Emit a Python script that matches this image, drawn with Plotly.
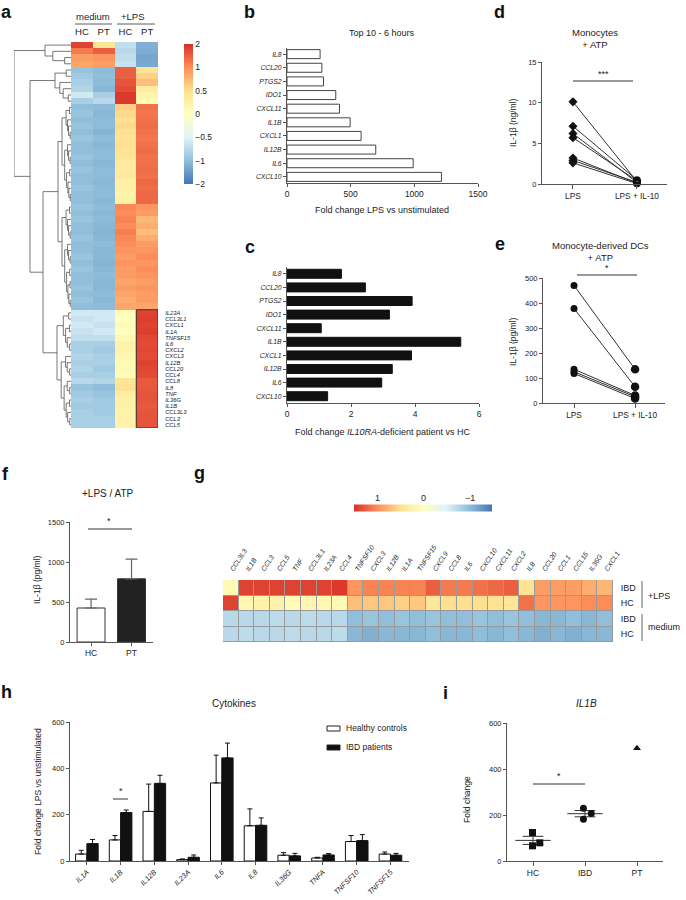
import numpy as np
import plotly.graph_objects as go

W, H = 686, 900
FONT = "Liberation Sans, Arial, sans-serif"
NARROW = "Liberation Sans Narrow, Liberation Sans, Arial, sans-serif"
INK = "#222222"
AXC = "#555555"

# ---------------- data ----------------
# panel a : row z-scores (top -> bottom), clusters A..E
a_col_labels = ["HC", "PT", "HC", "PT"]
a_medium_HC = [1.8, 1.2, 0.9, 0.85,
               -0.95, -0.9, -0.85, -0.8, -0.6, -0.85,
               -1.0, -0.95, -1.0, -0.95, -1.0, -0.95, -1.0, -1.0, -0.95, -1.0, -0.95, -1.0, -1.0, -0.95, -1.0, -1.0,
               -0.95, -1.0, -0.95, -1.0, -1.0, -0.95, -1.0, -1.0, -0.95, -1.0, -0.95, -1.0, -1.0, -0.95, -1.0, -0.95, -1.0,
               -0.6, -0.65, -0.6, -0.65, -0.7, -0.85, -0.85, -0.8, -0.85, -0.8, -0.85, -0.75, -0.95, -0.9, -0.85, -0.9, -0.85, -0.85, -0.85]
a_medium_PT = [0.4, 1.5, 0.95, 0.9,
               -1.05, -1.0, -1.05, -1.1, -0.85, -0.75,
               -1.05, -1.1, -1.05, -1.05, -1.15, -1.05, -1.1, -1.05, -1.05, -1.1, -1.05, -1.05, -1.1, -1.05, -1.05, -1.1,
               -1.05, -1.1, -1.05, -1.1, -1.15, -1.1, -1.05, -1.1, -1.1, -1.15, -1.1, -1.05, -1.1, -1.1, -1.05, -1.1, -1.05,
               -0.6, -0.6, -0.65, -0.6, -0.7, -0.85, -0.9, -0.85, -0.85, -0.9, -0.85, -0.8, -1.0, -0.95, -0.9, -0.9, -0.9, -0.85, -0.85]
a_lps_HC = [-0.7, -0.75, -0.7, -0.65,
            1.5, 1.5, 1.6, 1.7, 1.9, 1.9,
            0.6, 0.55, 0.5, 0.55, 0.5, 0.45, 0.5, 0.45, 0.4, 0.35, 0.3, 0.35, 0.25, 0.25, 0.2, 0.25,
            1.05, 1.0, 1.1, 1.0, 1.15, 1.05, 1.0, 0.95, 0.9, 0.95, 0.9, 0.9, 0.85, 0.9, 0.85, 0.8, 0.85,
            0.05, 0.0, 0.05, 0.0, 0.1, 0.2, 0.2, 0.15, 0.1, 0.1, 0.05, 0.4, 0.45, 0.3, 0.25, 0.25, 0.2, 0.2, 0.2]
a_lps_PT = [-1.2, -1.25, -1.35, -1.3,
            0.45, 0.6, 0.7, 0.3, 0.2, 0.1,
            1.3, 1.25, 1.3, 1.35, 1.3, 1.25, 1.3, 1.35, 1.3, 1.3, 1.35, 1.3, 1.4, 1.35, 1.4, 1.4,
            0.95, 0.9, 0.75, 0.8, 0.7, 0.8, 0.9, 0.95, 1.0, 0.95, 1.0, 0.95, 0.9, 0.95, 0.9, 0.9, 0.85,
            1.8, 1.85, 1.8, 1.85, 1.75, 1.7, 1.75, 1.7, 1.8, 1.75, 1.7, 1.55, 1.55, 1.6, 1.6, 1.55, 1.6, 1.6, 1.6]
a_box_genes = ["IL23A", "CCL3L1", "CXCL1", "IL1A", "TNFSF15", "IL6", "CXCL2", "CXCL3", "IL12B",
               "CCL20", "CCL4", "CCL8", "IL8", "TNF", "IL36G", "IL1B", "CCL3L3", "CCL3", "CCL5"]
a_cbar_values = [-2, -1, -0.5, 0, 0.5, 1, 2]
a_cbar_labels = ["\u22122", "\u22121", "\u22120.5", "0", "0.5", "1", "2"]
# dendrogram structure (cluster sizes, internal heights, merge heights)
a_cluster_sizes = [4, 6, 16, 17, 19]
a_cluster_heights = [26, 16, 9, 9, 14]
a_merge_heights = [13, 28, 41, 57]

# panels b, c
bc_genes = ["IL8", "CCL20", "PTGS2", "IDO1", "CXCL11", "IL1B", "CXCL1", "IL12B", "IL6", "CXCL10"]
b_values = [260, 274, 287, 383, 412, 496, 582, 697, 991, 1213]
c_values = [1.70, 2.45, 3.91, 3.20, 1.07, 5.43, 3.89, 3.29, 2.96, 1.27]

# panel d, e
de_groups = ["LPS", "LPS + IL-10"]
d_lps = [10.1, 7.1, 6.2, 5.7, 3.2, 2.9, 2.6]
d_lps_il10 = [0.3, 0.5, 0.2, 0.4, 0.1, 0.2, 0.05]
e_lps = [470, 378, 135, 125, 118]
e_lps_il10 = [135, 65, 30, 25, 18]

# panel f
f_groups = ["HC", "PT"]
f_means = [425, 790]
f_err = [112, 247]

# panel g
g_genes = ["CCL3L3", "IL1B", "CCL3", "CCL5", "TNF", "CCL3L1", "IL23A", "CCL4", "TNFSF10", "CXCL3",
           "IL12B", "IL1A", "TNFSF15", "CXCL9", "CCL8", "IL6", "CXCL10", "CXCL11", "CXCL2", "IL8",
           "CCL20", "CCL1", "CCL15", "IL36G", "CXCL1"]
g_rows = ["IBD", "HC", "IBD", "HC"]
g_IBD_LPS = [0.1, 1.4, 1.4, 1.4, 1.4, 1.4, 1.4, 1.45, 0.95, 1.05, 1.05, 1.05, 1.05, 1.25, 1.1, 1.1,
             1.15, 1.2, 1.25, 0.45, 0.9, 0.9, 0.9, 0.8, 0.75]
g_HC_LPS = [1.4, 0.15, 0.2, 0.2, 0.05, 0.15, 0.12, 0.1, 0.7, 0.65, 0.65, 0.6, 0.65, 0.4, 0.5, 0.5,
            0.5, 0.45, 0.4, 1.15, 0.95, 0.95, 0.95, 1.0, 1.0]
g_IBD_med = [-0.75, -0.75, -0.75, -0.72, -0.75, -0.72, -0.75, -0.75, -1.0, -0.95, -1.0, -0.95, -1.0, -0.95,
             -1.0, -1.0, -0.95, -1.0, -0.95, -1.0, -1.05, -1.05, -1.0, -1.05, -1.0]
g_HC_med = [-0.75, -0.72, -0.75, -0.75, -0.72, -0.75, -0.75, -0.72, -1.05, -1.1, -1.05, -1.05, -1.05, -1.0,
            -1.05, -1.05, -1.0, -1.05, -1.0, -1.05, -1.1, -1.05, -1.1, -1.05, -1.05]

# panel h
h_genes = ["IL1A", "IL1B", "IL12B", "IL23A", "IL6", "IL8", "IL36G", "TNFA", "TNFSF10", "TNFSF15"]
h_series = ["Healthy controls", "IBD patients"]
h_hc = [30, 91, 214, 6, 337, 152, 25, 13, 84, 30]
h_hc_err = [16, 19, 118, 3, 120, 73, 11, 3, 26, 9]
h_ibd = [75, 209, 335, 16, 445, 154, 22, 26, 88, 25]
h_ibd_err = [18, 11, 35, 10, 64, 32, 11, 6, 26, 8]

# panel i
i_groups = ["HC", "IBD", "PT"]
i_hc = [124, 79, 66]
i_ibd = [229, 206, 182]
i_pt = [490]
i_hc_jitter = [-0.01, 0.13, -0.01]
i_ibd_jitter = [-0.03, 0.12, -0.03]

# ---------------- helpers ----------------
def DX(a, b):
    return [a / W, b / W]

def DY(top, bottom):
    return [1 - bottom / H, 1 - top / H]

def PX(x):
    return x / W

def PY(y):
    return 1 - y / H

RDYLBU = ["#4575B4", "#91BFDB", "#E0F3F8", "#FFFFBF", "#FEE090", "#FC8D59", "#D73027"]
cs = [[i / 6, c] for i, c in enumerate(RDYLBU)]
cs_rev = [[i / 6, c] for i, c in enumerate(RDYLBU[::-1])]

def tf(size, family=FONT):
    return dict(size=size, family=family, color=INK)

def ax(**kw):
    base = dict(showline=True, linecolor=AXC, linewidth=1, ticks="outside", ticklen=3, tickwidth=1,
                tickcolor=AXC, showgrid=False, zeroline=False, fixedrange=True, tickfont=tf(7.5, NARROW))
    base.update(kw)
    return base

fig = go.Figure()

# ---------------- panel a: dendrogram ----------------
dend_x, dend_y = [], []

def link(l, r, h):
    (yl, hl), (yr, hr) = l, r
    dend_x.extend([hl, h, h, hr, None])
    dend_y.extend([yl, yl, yr, yr, None])
    return ((yl + yr) / 2, h)

def subtree(lo, hi, h):
    n = hi - lo
    if n == 1:
        return (lo, 0.0)
    cut = lo + max(1, (2 * n) // 5)
    left = subtree(lo, cut, h * (0.55 if cut - lo > 2 else 0.3))
    right = subtree(cut, hi, h * (0.7 if hi - cut > 2 else 0.35))
    return link(left, right, h)

starts = [int(s) for s in np.cumsum([0] + a_cluster_sizes[:-1])]
nA, nB, nC, nD, nE = [subtree(s, s + n, hh) for s, n, hh in zip(starts, a_cluster_sizes, a_cluster_heights)]
nCD = link(nC, nD, a_merge_heights[0])
nCDE = link(nCD, nE, a_merge_heights[1])
nBCDE = link(nB, nCDE, a_merge_heights[2])
link(nA, nBCDE, a_merge_heights[3])

fig.add_trace(go.Scatter(x=dend_x, y=dend_y, mode="lines", line=dict(color="#555", width=0.8),
                         xaxis="x", yaxis="y", showlegend=False, hoverinfo="skip", cliponaxis=False))

# ---------------- panel a: heatmap ----------------
n_rows = len(a_medium_HC)
a_z = np.column_stack([a_medium_HC, a_medium_PT, a_lps_HC, a_lps_PT])
a_t = np.interp(a_z, a_cbar_values, np.arange(-3, 4))
fig.add_trace(go.Heatmap(
    z=a_t, x=list(range(4)), y=list(range(n_rows)), colorscale=cs, zmin=-3, zmax=3,
    xaxis="x2", yaxis="y2", hoverinfo="skip",
    colorbar=dict(x=PX(184), xanchor="left", y=PY(114), yanchor="middle", len=140, lenmode="pixels",
                  thickness=9, thicknessmode="pixels", outlinewidth=0, xpad=0, ypad=0,
                  tickvals=list(range(-3, 4)), ticktext=a_cbar_labels, ticks="",
                  tickfont=tf(8.5))))

# ---------------- panel b ----------------
fig.add_trace(go.Bar(x=b_values, y=bc_genes, orientation="h", width=0.66,
                     marker=dict(color="white", line=dict(color="#444", width=1)),
                     xaxis="x3", yaxis="y3", showlegend=False, hoverinfo="skip"))
# ---------------- panel c ----------------
fig.add_trace(go.Bar(x=c_values, y=bc_genes, orientation="h", width=0.66,
                     marker=dict(color="#111", line=dict(color="#111", width=1)),
                     xaxis="x4", yaxis="y4", showlegend=False, hoverinfo="skip"))

# ---------------- panel d / e ----------------
def paired(v0s, v1s):
    xs, ys = [], []
    for v0, v1 in zip(v0s, v1s):
        xs += [de_groups[0], de_groups[1], None]
        ys += [v0, v1, None]
    return xs, ys

for (v0s, v1s, xa, ya, sym0, sym1) in [(d_lps, d_lps_il10, "x5", "y5", "diamond", "circle-open"),
                                       (e_lps, e_lps_il10, "x6", "y6", "circle", "circle")]:
    xs, ys = paired(v0s, v1s)
    fig.add_trace(go.Scatter(x=xs, y=ys, mode="lines", line=dict(color="#333", width=1),
                             xaxis=xa, yaxis=ya, showlegend=False, hoverinfo="skip"))
    fig.add_trace(go.Scatter(x=[de_groups[0]] * len(v0s), y=v0s, mode="markers",
                             marker=dict(symbol=sym0, size=7, color="#111"),
                             xaxis=xa, yaxis=ya, showlegend=False, hoverinfo="skip", cliponaxis=False))
    fig.add_trace(go.Scatter(x=[de_groups[1]] * len(v1s), y=v1s, mode="markers",
                             marker=dict(symbol=sym1, size=6 if sym1 == "circle-open" else 7, color="#111",
                                         line=dict(width=1.5, color="#111")),
                             xaxis=xa, yaxis=ya, showlegend=False, hoverinfo="skip", cliponaxis=False))

# ---------------- panel f ----------------
fig.add_trace(go.Bar(x=f_groups, y=f_means, width=0.69,
                     marker=dict(color=["white", "#222"], line=dict(color="#333", width=1)),
                     error_y=dict(type="data", array=f_err, arrayminus=[0] * len(f_err), symmetric=False,
                                  color="#666", thickness=1.2, width=6),
                     xaxis="x7", yaxis="y7", showlegend=False, hoverinfo="skip"))

# ---------------- panel g ----------------
g_z = -np.array([g_IBD_LPS, g_HC_LPS, g_IBD_med, g_HC_med])
fig.add_trace(go.Heatmap(
    z=g_z, x=list(range(len(g_genes))), y=list(range(4)), colorscale=cs_rev, zmin=-1.5, zmax=1.5,
    xgap=1, ygap=1, xaxis="x8", yaxis="y8", hoverinfo="skip",
    colorbar=dict(orientation="h", x=PX(423), xanchor="center", y=PY(508.5), yanchor="middle",
                  len=138, lenmode="pixels", thickness=7, thicknessmode="pixels", outlinewidth=0,
                  showticklabels=False, ticks="", xpad=0, ypad=0)))

# ---------------- panel h ----------------
h_fill = ["white", "#111"]
for k, (vals, errs, off) in enumerate([(h_hc, h_hc_err, -0.335), (h_ibd, h_ibd_err, 0.0)]):
    fig.add_trace(go.Bar(x=h_genes, y=vals, width=0.335, offset=off, name=h_series[k],
                         marker=dict(color=h_fill[k], line=dict(color="#111", width=1)),
                         error_y=dict(type="data", array=errs, arrayminus=[0] * len(errs),
                                      symmetric=False, color="#111", thickness=1, width=2.5),
                         xaxis="x9", yaxis="y9", hoverinfo="skip", showlegend=False))

# ---------------- panel i ----------------
for gi, (vals, jit, sym) in enumerate([(i_hc, i_hc_jitter, "square"), (i_ibd, i_ibd_jitter, "circle")]):
    m = float(np.mean(vals))
    s = float(np.std(vals, ddof=1) / np.sqrt(len(vals)))
    lx = [gi - 0.34, gi + 0.34, None, gi - 0.2, gi + 0.2, None, gi - 0.2, gi + 0.2, None, gi, gi]
    ly = [m, m, None, m + s, m + s, None, m - s, m - s, None, m - s, m + s]
    fig.add_trace(go.Scatter(x=lx, y=ly, mode="lines", line=dict(color="#333", width=1),
                             xaxis="x10", yaxis="y10", showlegend=False, hoverinfo="skip"))
    fig.add_trace(go.Scatter(x=[gi + j for j in jit], y=vals, mode="markers",
                             marker=dict(symbol=sym, size=7, color="#111"),
                             xaxis="x10", yaxis="y10", showlegend=False, hoverinfo="skip"))
fig.add_trace(go.Scatter(x=[2] * len(i_pt), y=i_pt, mode="markers",
                         marker=dict(symbol="triangle-up", size=7, color="#111"),
                         xaxis="x10", yaxis="y10", showlegend=False, hoverinfo="skip"))

# ---------------- layout axes ----------------
italic = lambda lst: ["<i>%s</i>" % s for s in lst]
layout = dict(
    template="none",
    width=W, height=H, margin=dict(l=0, r=0, t=0, b=0),
    paper_bgcolor="white", plot_bgcolor="white",
    font=dict(family=FONT, size=8, color=INK),
    barmode="overlay", showlegend=False,
    # a dendrogram
    xaxis=dict(domain=DX(14, 71), range=[a_merge_heights[-1], 0], visible=False, anchor="y", fixedrange=True),
    yaxis=dict(domain=DY(42, 428), range=[n_rows - 0.5, -0.5], visible=False, anchor="x", fixedrange=True),
    # a heatmap
    xaxis2=dict(domain=DX(71, 158), range=[-0.5, 3.5], side="top", anchor="y2", tickvals=list(range(4)),
                ticktext=a_col_labels, ticks="outside", ticklen=2, tickcolor="rgba(0,0,0,0)",
                showline=False, showgrid=False, zeroline=False, tickfont=tf(9.5), fixedrange=True),
    yaxis2=dict(domain=DY(42, 428), range=[n_rows - 0.5, -0.5], side="right", anchor="x2",
                tickvals=list(range(n_rows - len(a_box_genes), n_rows)), ticktext=italic(a_box_genes),
                ticks="outside", ticklen=5, tickcolor="rgba(0,0,0,0)", showline=False, showgrid=False,
                zeroline=False, tickfont=tf(5.8), fixedrange=True),
    # b
    xaxis3=ax(domain=DX(287, 478), range=[0, 1500], tickvals=[0, 500, 1000, 1500], anchor="y3",
              tickfont=tf(8.5)),
    yaxis3=ax(domain=DY(48, 183), type="category", categoryorder="array", categoryarray=bc_genes,
              range=[9.45, -0.45], tickvals=bc_genes, ticktext=italic(bc_genes), anchor="x3",
              tickfont=tf(6.8)),
    # c
    xaxis4=ax(domain=DX(287, 479), range=[0, 6], tickvals=[0, 2, 4, 6], anchor="y4", tickfont=tf(8.5)),
    yaxis4=ax(domain=DY(267, 403), type="category", categoryorder="array", categoryarray=bc_genes,
              range=[9.5, -0.5], tickvals=bc_genes, ticktext=italic(bc_genes), anchor="x4",
              tickfont=tf(6.8)),
    # d
    xaxis5=ax(domain=DX(542, 667), type="category", categoryorder="array", categoryarray=de_groups,
              range=[-0.484, 1.47], anchor="y5", tickfont=tf(8.3), ticklen=4),
    yaxis5=ax(domain=DY(62, 184), range=[0, 15], tickvals=[0, 5, 10, 15], anchor="x5"),
    # e
    xaxis6=ax(domain=DX(543, 665), type="category", categoryorder="array", categoryarray=de_groups,
              range=[-0.508, 1.49], anchor="y6", tickfont=tf(8.3), ticklen=4),
    yaxis6=ax(domain=DY(278, 403), range=[0, 500], tickvals=[0, 100, 200, 300, 400, 500], anchor="x6"),
    # f
    xaxis7=ax(domain=DX(70, 153), type="category", categoryorder="array", categoryarray=f_groups,
              range=[-0.52, 1.53], anchor="y7", tickfont=tf(8.5)),
    yaxis7=ax(domain=DY(522, 642), range=[0, 1500], tickvals=[0, 500, 1000, 1500], anchor="x7"),
    # g
    xaxis8=dict(domain=DX(223, 613), range=[-0.5, len(g_genes) - 0.5], side="top", anchor="y8",
                tickvals=list(range(len(g_genes))), ticktext=italic(g_genes), tickangle=-57,
                ticks="outside", ticklen=3, tickcolor="rgba(0,0,0,0)", showline=False, showgrid=False,
                zeroline=False, tickfont=tf(6.8), fixedrange=True),
    yaxis8=dict(domain=DY(580, 642), range=[3.5, -0.5], side="right", anchor="x8",
                tickvals=list(range(4)), ticktext=g_rows, ticks="outside", ticklen=5,
                tickcolor="rgba(0,0,0,0)", showline=False, showgrid=False, zeroline=False,
                tickfont=tf(9), fixedrange=True),
    # h
    xaxis9=ax(domain=DX(70, 409), type="category", categoryorder="array", categoryarray=h_genes,
              range=[-0.5, 9.55], tickvals=h_genes, ticktext=italic(h_genes), tickangle=-45, anchor="y9",
              tickfont=tf(7.3), ticklen=3),
    yaxis9=ax(domain=DY(722, 861), range=[0, 600], tickvals=[0, 200, 400, 600], anchor="x9"),
    # i
    xaxis10=ax(domain=DX(507, 663), range=[-0.5, 2.5], tickvals=[0, 1, 2], ticktext=i_groups, anchor="y10",
               tickfont=tf(8.5), ticklen=4),
    yaxis10=ax(domain=DY(723, 861), range=[0, 600], tickvals=[0, 200, 400, 600], anchor="x10"),
)
fig.update_layout(**layout)

# ---------------- annotations ----------------
ann = []

def text(x, y, t, size=8, angle=0, xanchor="center", yanchor="middle", bold=False, family=FONT):
    ann.append(dict(x=PX(x), y=PY(y), xref="paper", yref="paper", text=("<b>%s</b>" % t) if bold else t,
                    showarrow=False, xanchor=xanchor, yanchor=yanchor, textangle=angle,
                    font=dict(size=size, color=INK if not bold else "#111", family=family)))

# panel letters (positions = top of the letter box)
for letter, (lx, ly) in {"a": (7, 0), "b": (250, 0), "c": (250, 235), "d": (500, 0), "e": (500, 232),
                         "f": (5, 462), "g": (199, 461), "h": (7, 680), "i": (445, 681)}.items():
    text(lx, ly, letter, size=18, bold=True, yanchor="top")

text(93, 17, "medium", size=9.5)
text(133, 17, "+LPS", size=9.5)
text(382, 33, "Top 10 - 6 hours", size=9)
text(382, 210, "Fold change LPS vs unstimulated", size=9)
text(383, 432, "Fold change <i>IL10RA</i>-deficient patient vs HC", size=9)
text(595, 38, "Monocytes<br>+ ATP", size=9.5)
text(513, 123, "IL-1\u03b2 (ng/ml)", size=8.5, angle=-90)
text(600, 251, "Monocyte-derived DCs<br>+ ATP", size=9.5)
text(513, 342, "IL-1\u03b2 (pg/ml)", size=8.5, angle=-90)
text(603, 74, "***", size=9)
text(607, 268, "*", size=9)
text(108, 493, "+LPS / ATP", size=10)
text(37, 580, "IL-1\u03b2 (pg/ml)", size=8.5, angle=-90)
text(109, 521, "*", size=9)
text(377, 498, "1", size=9)
text(423, 498, "0", size=9)
text(470, 498, "\u22121", size=9)
text(646, 596, "+LPS", size=9, xanchor="left")
text(646, 627, "medium", size=9, xanchor="left")
text(234, 703, "Cytokines", size=10)
text(38, 792, "Fold change LPS vs unstimulated", size=8.5, angle=-90)
text(121, 791, "*", size=9)
text(586, 703, "<i>IL1B</i>", size=10)
text(467, 800, "Fold change", size=8.5, angle=-90)
text(559, 776, "*", size=9)
# legend of h
text(344, 728, h_series[0], size=8.5, xanchor="left")
text(344, 747, h_series[1], size=8.5, xanchor="left")
fig.update_layout(annotations=ann)

# ---------------- shapes ----------------
shapes = []

def pline(x0, y0, x1, y1, color="#333", width=1):
    shapes.append(dict(type="line", xref="paper", yref="paper", x0=PX(x0), y0=PY(y0), x1=PX(x1), y1=PY(y1),
                       line=dict(color=color, width=width)))

def prect(x0, y0, x1, y1, fill, line="#222"):
    shapes.append(dict(type="rect", xref="paper", yref="paper", x0=PX(x0), y0=PY(y0), x1=PX(x1), y1=PY(y1),
                       fillcolor=fill, line=dict(color=line, width=1)))

pline(75, 24, 112, 24, width=0.8)
pline(117, 24, 155, 24, width=0.8)
# boxed cluster in a
shapes.append(dict(type="rect", xref="x2", yref="y2", x0=2.5, x1=3.5, y0=n_rows - len(a_box_genes) - 0.5,
                   y1=n_rows - 0.5, line=dict(color="#333", width=1)))
# grid background for g
shapes.append(dict(type="rect", xref="x8", yref="y8", x0=-0.5, x1=len(g_genes) - 0.5, y0=-0.5, y1=3.5,
                   fillcolor="#9a9a9a", line=dict(color="#9a9a9a", width=1), layer="below"))
pline(642, 581, 642, 608, color="#999", width=1.5)
pline(642, 614, 642, 641, color="#999", width=1.5)
# significance bars
pline(573, 81, 633, 81)
pline(577, 275, 637, 275)
pline(88, 529, 132, 529)
pline(113, 799, 128, 799)
pline(533, 784, 585, 784)
# legend swatches for h
prect(327, 726, 340, 731, h_fill[0])
prect(327, 745, 340, 750, h_fill[1])
fig.update_layout(shapes=shapes)

fig.write_html("out.html", config={"displayModeBar": False},
               post_script="document.body.style.margin='0';document.body.style.padding='0';")
